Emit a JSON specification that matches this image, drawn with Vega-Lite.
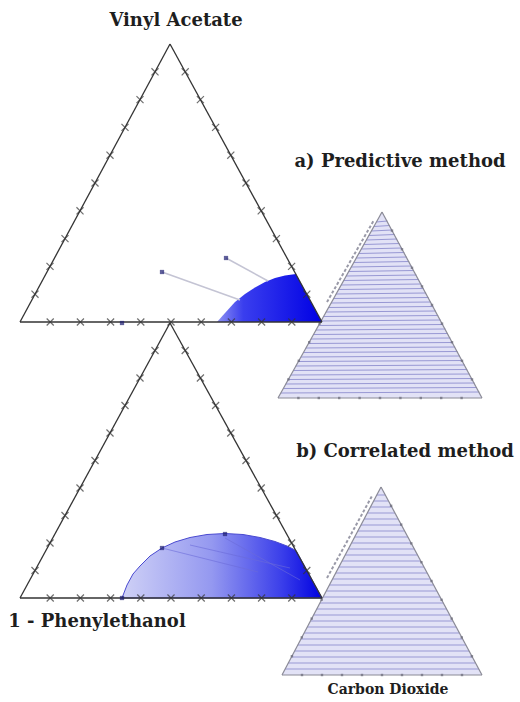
{
  "$schema": "https://vega.github.io/schema/vega-lite/v6.json",
  "width": 520,
  "height": 702,
  "padding": 0,
  "autosize": {"type": "none"},
  "background": "white",
  "config": {"view": {"stroke": null}},
  "datasets": {
    "smallfill": [
      {"panel": "a", "x": 278, "y": 398, "y2": 398},
      {"panel": "a", "x": 382, "y": 212, "y2": 398},
      {"panel": "a", "x": 482, "y": 398, "y2": 398},
      {"panel": "b", "x": 282, "y": 675, "y2": 675},
      {"panel": "b", "x": 381, "y": 487, "y2": 675},
      {"panel": "b", "x": 482, "y": 675, "y2": 675}
    ],
    "smallties": [
      {"panel": "a", "x": 376.4, "y": 222.0, "x2": 387.4, "y2": 221.0},
      {"panel": "a", "x": 373.9, "y": 226.5, "x2": 389.8, "y2": 225.5},
      {"panel": "a", "x": 371.4, "y": 231.0, "x2": 392.2, "y2": 230.0},
      {"panel": "a", "x": 368.9, "y": 235.5, "x2": 394.6, "y2": 234.5},
      {"panel": "a", "x": 366.3, "y": 240.0, "x2": 397.1, "y2": 239.0},
      {"panel": "a", "x": 363.8, "y": 244.5, "x2": 399.5, "y2": 243.5},
      {"panel": "a", "x": 361.3, "y": 249.0, "x2": 401.9, "y2": 248.0},
      {"panel": "a", "x": 358.8, "y": 253.5, "x2": 404.3, "y2": 252.5},
      {"panel": "a", "x": 356.3, "y": 258.0, "x2": 406.7, "y2": 257.0},
      {"panel": "a", "x": 353.8, "y": 262.5, "x2": 409.2, "y2": 261.5},
      {"panel": "a", "x": 351.2, "y": 267.0, "x2": 411.6, "y2": 266.0},
      {"panel": "a", "x": 348.7, "y": 271.5, "x2": 414.0, "y2": 270.5},
      {"panel": "a", "x": 346.2, "y": 276.0, "x2": 416.4, "y2": 275.0},
      {"panel": "a", "x": 343.7, "y": 280.5, "x2": 418.8, "y2": 279.5},
      {"panel": "a", "x": 341.2, "y": 285.0, "x2": 421.3, "y2": 284.0},
      {"panel": "a", "x": 338.7, "y": 289.5, "x2": 423.7, "y2": 288.5},
      {"panel": "a", "x": 336.1, "y": 294.0, "x2": 426.1, "y2": 293.0},
      {"panel": "a", "x": 333.6, "y": 298.5, "x2": 428.5, "y2": 297.5},
      {"panel": "a", "x": 331.1, "y": 303.0, "x2": 430.9, "y2": 302.0},
      {"panel": "a", "x": 328.6, "y": 307.5, "x2": 433.3, "y2": 306.5},
      {"panel": "a", "x": 326.1, "y": 312.0, "x2": 435.8, "y2": 311.0},
      {"panel": "a", "x": 323.6, "y": 316.5, "x2": 438.2, "y2": 315.5},
      {"panel": "a", "x": 321.1, "y": 321.0, "x2": 440.6, "y2": 320.0},
      {"panel": "a", "x": 318.5, "y": 325.5, "x2": 443.0, "y2": 324.5},
      {"panel": "a", "x": 316.0, "y": 330.0, "x2": 445.4, "y2": 329.0},
      {"panel": "a", "x": 313.5, "y": 334.5, "x2": 447.9, "y2": 333.5},
      {"panel": "a", "x": 311.0, "y": 339.0, "x2": 450.3, "y2": 338.0},
      {"panel": "a", "x": 308.5, "y": 343.5, "x2": 452.7, "y2": 342.5},
      {"panel": "a", "x": 306.0, "y": 348.0, "x2": 455.1, "y2": 347.0},
      {"panel": "a", "x": 303.4, "y": 352.5, "x2": 457.5, "y2": 351.5},
      {"panel": "a", "x": 300.9, "y": 357.0, "x2": 460.0, "y2": 356.0},
      {"panel": "a", "x": 298.4, "y": 361.5, "x2": 462.4, "y2": 360.5},
      {"panel": "a", "x": 295.9, "y": 366.0, "x2": 464.8, "y2": 365.0},
      {"panel": "a", "x": 293.4, "y": 370.5, "x2": 467.2, "y2": 369.5},
      {"panel": "a", "x": 290.9, "y": 375.0, "x2": 469.6, "y2": 374.0},
      {"panel": "a", "x": 288.3, "y": 379.5, "x2": 472.1, "y2": 378.5},
      {"panel": "a", "x": 285.8, "y": 384.0, "x2": 474.5, "y2": 383.0},
      {"panel": "a", "x": 283.3, "y": 388.5, "x2": 476.9, "y2": 387.5},
      {"panel": "a", "x": 280.8, "y": 393.0, "x2": 479.3, "y2": 392.0},
      {"panel": "b", "x": 376.8, "y": 495, "x2": 385.3, "y2": 495},
      {"panel": "b", "x": 373.6, "y": 501, "x2": 388.6, "y2": 501},
      {"panel": "b", "x": 370.5, "y": 507, "x2": 391.8, "y2": 507},
      {"panel": "b", "x": 367.3, "y": 513, "x2": 395.0, "y2": 513},
      {"panel": "b", "x": 364.1, "y": 519, "x2": 398.2, "y2": 519},
      {"panel": "b", "x": 361.0, "y": 525, "x2": 401.4, "y2": 525},
      {"panel": "b", "x": 357.8, "y": 531, "x2": 404.7, "y2": 531},
      {"panel": "b", "x": 354.7, "y": 537, "x2": 407.9, "y2": 537},
      {"panel": "b", "x": 351.5, "y": 543, "x2": 411.1, "y2": 543},
      {"panel": "b", "x": 348.4, "y": 549, "x2": 414.3, "y2": 549},
      {"panel": "b", "x": 345.2, "y": 555, "x2": 417.6, "y2": 555},
      {"panel": "b", "x": 342.0, "y": 561, "x2": 420.8, "y2": 561},
      {"panel": "b", "x": 338.9, "y": 567, "x2": 424.0, "y2": 567},
      {"panel": "b", "x": 335.7, "y": 573, "x2": 427.2, "y2": 573},
      {"panel": "b", "x": 332.6, "y": 579, "x2": 430.4, "y2": 579},
      {"panel": "b", "x": 329.4, "y": 585, "x2": 433.7, "y2": 585},
      {"panel": "b", "x": 326.2, "y": 591, "x2": 436.9, "y2": 591},
      {"panel": "b", "x": 323.1, "y": 597, "x2": 440.1, "y2": 597},
      {"panel": "b", "x": 319.9, "y": 603, "x2": 443.3, "y2": 603},
      {"panel": "b", "x": 316.8, "y": 609, "x2": 446.6, "y2": 609},
      {"panel": "b", "x": 313.6, "y": 615, "x2": 449.8, "y2": 615},
      {"panel": "b", "x": 310.4, "y": 621, "x2": 453.0, "y2": 621},
      {"panel": "b", "x": 307.3, "y": 627, "x2": 456.2, "y2": 627},
      {"panel": "b", "x": 304.1, "y": 633, "x2": 459.4, "y2": 633},
      {"panel": "b", "x": 301.0, "y": 639, "x2": 462.7, "y2": 639},
      {"panel": "b", "x": 297.8, "y": 645, "x2": 465.9, "y2": 645},
      {"panel": "b", "x": 294.6, "y": 651, "x2": 469.1, "y2": 651},
      {"panel": "b", "x": 291.5, "y": 657, "x2": 472.3, "y2": 657},
      {"panel": "b", "x": 288.3, "y": 663, "x2": 475.6, "y2": 663},
      {"panel": "b", "x": 285.2, "y": 669, "x2": 478.8, "y2": 669}
    ],
    "smalledges": [
      {"x": 278, "y": 398, "x2": 382, "y2": 212},
      {"x": 382, "y": 212, "x2": 482, "y2": 398},
      {"x": 278, "y": 398, "x2": 482, "y2": 398},
      {"x": 282, "y": 675, "x2": 381, "y2": 487},
      {"x": 381, "y": 487, "x2": 482, "y2": 675},
      {"x": 282, "y": 675, "x2": 482, "y2": 675}
    ],
    "smalllabels": [
      {"x": 327, "y": 302, "x2": 374, "y2": 220},
      {"x": 327, "y": 578, "x2": 372, "y2": 496}
    ],
    "smallticks": [
      {"x": 298.4, "y": 398}, {"x": 318.8, "y": 398}, {"x": 339.2, "y": 398}, {"x": 359.6, "y": 398}, {"x": 380, "y": 398}, {"x": 400.4, "y": 398}, {"x": 420.8, "y": 398}, {"x": 441.2, "y": 398}, {"x": 461.6, "y": 398},
      {"x": 392, "y": 230.6}, {"x": 402, "y": 249.2}, {"x": 412, "y": 267.8}, {"x": 422, "y": 286.4}, {"x": 432, "y": 305}, {"x": 442, "y": 323.6}, {"x": 452, "y": 342.2}, {"x": 462, "y": 360.8}, {"x": 472, "y": 379.4},
      {"x": 288.4, "y": 379.4}, {"x": 298.8, "y": 360.8}, {"x": 309.2, "y": 342.2}, {"x": 319.6, "y": 323.6},
      {"x": 302, "y": 675}, {"x": 322, "y": 675}, {"x": 342, "y": 675}, {"x": 362, "y": 675}, {"x": 382, "y": 675}, {"x": 402, "y": 675}, {"x": 422, "y": 675}, {"x": 442, "y": 675}, {"x": 462, "y": 675},
      {"x": 391.1, "y": 505.8}, {"x": 401.2, "y": 524.6}, {"x": 411.3, "y": 543.4}, {"x": 421.4, "y": 562.2}, {"x": 431.5, "y": 581}, {"x": 441.6, "y": 599.8}, {"x": 451.7, "y": 618.6}, {"x": 461.8, "y": 637.4}, {"x": 471.9, "y": 656.2},
      {"x": 291.9, "y": 656.2}, {"x": 301.8, "y": 637.4}, {"x": 311.7, "y": 618.6}, {"x": 321.6, "y": 599.8}
    ],
    "blueA": [
      {"x": 217, "y": 322, "y2": 322},
      {"x": 225, "y": 313, "y2": 322},
      {"x": 235, "y": 302, "y2": 322},
      {"x": 245, "y": 294, "y2": 322},
      {"x": 255, "y": 287.5, "y2": 322},
      {"x": 265, "y": 282, "y2": 322},
      {"x": 275, "y": 278, "y2": 322},
      {"x": 285, "y": 275.5, "y2": 322},
      {"x": 296, "y": 274, "y2": 322},
      {"x": 322, "y": 322, "y2": 322}
    ],
    "blueB": [
      {"x": 122, "y": 598, "y2": 598},
      {"x": 127, "y": 585, "y2": 598},
      {"x": 133, "y": 574, "y2": 598},
      {"x": 140, "y": 566, "y2": 598},
      {"x": 150, "y": 556, "y2": 598},
      {"x": 162, "y": 548, "y2": 598},
      {"x": 175, "y": 542, "y2": 598},
      {"x": 190, "y": 537.5, "y2": 598},
      {"x": 207, "y": 534.5, "y2": 598},
      {"x": 225, "y": 533.5, "y2": 598},
      {"x": 243, "y": 534.5, "y2": 598},
      {"x": 260, "y": 537.5, "y2": 598},
      {"x": 275, "y": 541.5, "y2": 598},
      {"x": 287, "y": 546, "y2": 598},
      {"x": 296, "y": 550.5, "y2": 598},
      {"x": 322, "y": 598, "y2": 598}
    ],
    "bigedges": [
      {"x": 20, "y": 322, "x2": 170, "y2": 44},
      {"x": 170, "y": 44, "x2": 322, "y2": 322},
      {"x": 20, "y": 322, "x2": 322, "y2": 322},
      {"x": 20, "y": 598, "x2": 170, "y2": 323},
      {"x": 170, "y": 323, "x2": 322, "y2": 598},
      {"x": 20, "y": 598, "x2": 322, "y2": 598}
    ],
    "bigticks": [
      {"x": 35, "y": 294.2}, {"x": 50, "y": 266.4}, {"x": 65, "y": 238.6}, {"x": 80, "y": 210.8}, {"x": 95, "y": 183}, {"x": 110, "y": 155.2}, {"x": 125, "y": 127.4}, {"x": 140, "y": 99.6}, {"x": 155, "y": 71.8},
      {"x": 185.2, "y": 71.8}, {"x": 200.4, "y": 99.6}, {"x": 215.6, "y": 127.4}, {"x": 230.8, "y": 155.2}, {"x": 246, "y": 183}, {"x": 261.2, "y": 210.8}, {"x": 276.4, "y": 238.6}, {"x": 291.6, "y": 266.4}, {"x": 306.8, "y": 294.2},
      {"x": 50.2, "y": 322}, {"x": 80.4, "y": 322}, {"x": 110.6, "y": 322}, {"x": 140.8, "y": 322}, {"x": 171, "y": 322}, {"x": 201.2, "y": 322}, {"x": 231.4, "y": 322}, {"x": 261.6, "y": 322}, {"x": 291.8, "y": 322},
      {"x": 35, "y": 570.5}, {"x": 50, "y": 543}, {"x": 65, "y": 515.5}, {"x": 80, "y": 488}, {"x": 95, "y": 460.5}, {"x": 110, "y": 433}, {"x": 125, "y": 405.5}, {"x": 140, "y": 378}, {"x": 155, "y": 350.5},
      {"x": 185.2, "y": 350.5}, {"x": 200.4, "y": 378}, {"x": 215.6, "y": 405.5}, {"x": 230.8, "y": 433}, {"x": 246, "y": 460.5}, {"x": 261.2, "y": 488}, {"x": 276.4, "y": 515.5}, {"x": 291.6, "y": 543}, {"x": 306.8, "y": 570.5},
      {"x": 50.2, "y": 598}, {"x": 80.4, "y": 598}, {"x": 110.6, "y": 598}, {"x": 140.8, "y": 598}, {"x": 171, "y": 598}, {"x": 201.2, "y": 598}, {"x": 231.4, "y": 598}, {"x": 261.6, "y": 598}, {"x": 291.8, "y": 598}
    ],
    "greyties": [
      {"x": 162, "y": 272, "x2": 240, "y2": 300},
      {"x": 226, "y": 258, "x2": 268, "y2": 281}
    ],
    "blueties": [
      {"x": 162, "y": 548, "x2": 258, "y2": 572},
      {"x": 190, "y": 545, "x2": 290, "y2": 568},
      {"x": 225, "y": 538, "x2": 300, "y2": 580}
    ],
    "points": [
      {"x": 162, "y": 272}, {"x": 226, "y": 258}, {"x": 122, "y": 323},
      {"x": 162, "y": 548}, {"x": 225, "y": 534}, {"x": 122, "y": 598}
    ],
    "labels": [
      {"label": "Vinyl Acetate", "x": 176, "y": 21},
      {"label": "a) Predictive method", "x": 400, "y": 162},
      {"label": "b) Correlated method", "x": 405, "y": 452},
      {"label": "1 - Phenylethanol", "x": 97, "y": 622}
    ],
    "labelsSmall": [
      {"label": "Carbon Dioxide", "x": 388, "y": 690}
    ]
  },
  "encoding": {
    "x": {"field": "x", "type": "quantitative", "scale": {"domain": [0, 520], "nice": false, "zero": false}, "axis": null},
    "y": {"field": "y", "type": "quantitative", "scale": {"domain": [0, 702], "reverse": true, "nice": false, "zero": false}, "axis": null}
  },
  "layer": [
    {
      "data": {"name": "smallfill"},
      "mark": {"type": "area", "color": "#e2e2f6", "opacity": 1},
      "encoding": {"y2": {"field": "y2"}, "detail": {"field": "panel"}}
    },
    {
      "data": {"name": "smallties"},
      "mark": {"type": "rule", "color": "#9898d4", "strokeWidth": 1},
      "encoding": {"x2": {"field": "x2"}, "y2": {"field": "y2"}}
    },
    {
      "data": {"name": "smalllabels"},
      "mark": {"type": "rule", "color": "#9a9aa8", "strokeWidth": 2, "strokeDash": [3, 2]},
      "encoding": {"x2": {"field": "x2"}, "y2": {"field": "y2"}}
    },
    {
      "data": {"name": "smalledges"},
      "mark": {"type": "rule", "color": "#8a8a96", "strokeWidth": 1.2},
      "encoding": {"x2": {"field": "x2"}, "y2": {"field": "y2"}}
    },
    {
      "data": {"name": "smallticks"},
      "mark": {"type": "point", "shape": "square", "filled": true, "color": "#6a6a78", "size": 6}
    },
    {
      "data": {"name": "blueA"},
      "mark": {"type": "area", "color": {"gradient": "linear", "x1": 0, "y1": 0, "x2": 1, "y2": 0, "stops": [{"offset": 0, "color": "#8e92f2"}, {"offset": 0.25, "color": "#3a3eee"}, {"offset": 1, "color": "#0000e4"}]}},
      "encoding": {"y2": {"field": "y2"}}
    },
    {
      "data": {"name": "blueB"},
      "mark": {"type": "area", "color": {"gradient": "linear", "x1": 0, "y1": 0, "x2": 1, "y2": 0, "stops": [{"offset": 0, "color": "#cfd1f6"}, {"offset": 0.45, "color": "#9498f0"}, {"offset": 0.8, "color": "#3a3eea"}, {"offset": 1, "color": "#0000e0"}]}, "stroke": "#4a4ad0", "strokeWidth": 1},
      "encoding": {"y2": {"field": "y2"}}
    },
    {
      "data": {"name": "blueties"},
      "mark": {"type": "rule", "color": "#6a6ad8", "strokeWidth": 1, "opacity": 0.6},
      "encoding": {"x2": {"field": "x2"}, "y2": {"field": "y2"}}
    },
    {
      "data": {"name": "greyties"},
      "mark": {"type": "rule", "color": "#c4c4d4", "strokeWidth": 1.5},
      "encoding": {"x2": {"field": "x2"}, "y2": {"field": "y2"}}
    },
    {
      "data": {"name": "bigedges"},
      "mark": {"type": "rule", "color": "#333333", "strokeWidth": 1.3},
      "encoding": {"x2": {"field": "x2"}, "y2": {"field": "y2"}}
    },
    {
      "data": {"name": "bigticks"},
      "mark": {"type": "point", "shape": "M-1,-1L1,1M1,-1L-1,1", "filled": false, "color": "#333333", "strokeWidth": 1.2, "size": 50}
    },
    {
      "data": {"name": "points"},
      "mark": {"type": "point", "shape": "square", "filled": true, "color": "#1c1c70", "size": 18}
    },
    {
      "data": {"name": "labels"},
      "mark": {"type": "text", "font": "DejaVu Serif", "fontWeight": "bold", "fontSize": 18, "color": "#1e1e1e", "align": "center", "baseline": "middle"},
      "encoding": {"text": {"field": "label"}}
    },
    {
      "data": {"name": "labelsSmall"},
      "mark": {"type": "text", "font": "DejaVu Serif", "fontWeight": "bold", "fontSize": 14, "color": "#1e1e1e", "align": "center", "baseline": "middle"},
      "encoding": {"text": {"field": "label"}}
    }
  ]
}
